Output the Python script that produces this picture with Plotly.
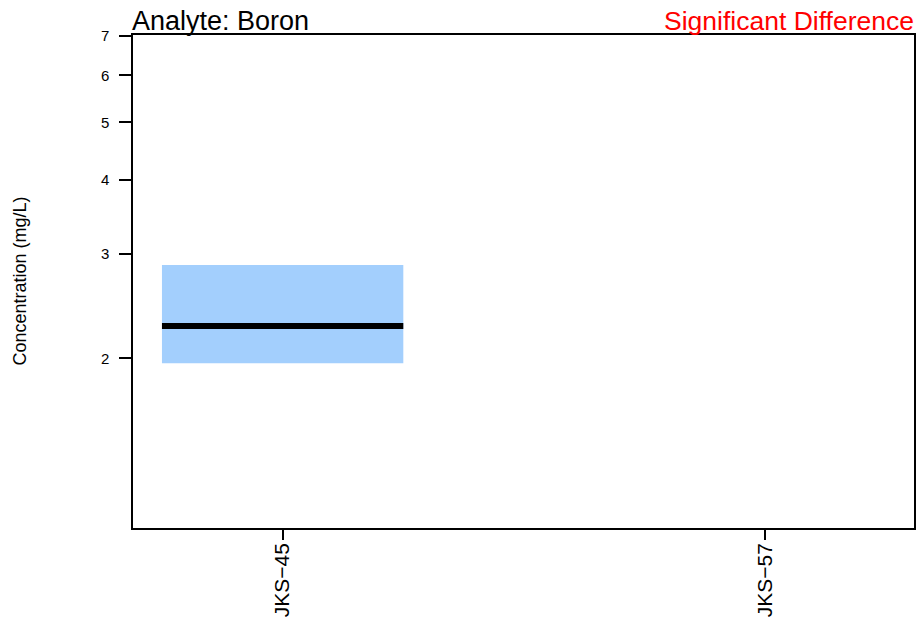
import plotly.graph_objects as go
import math

# ---- data ----
categories = ["JKS\u221245", "JKS\u221257"]
cat_pos = [1, 2]
q_low = [1.962, None]
q_med = [2.267, None]
q_high = [2.873, None]
y_ticks = [2, 3, 4, 5, 6, 7]
y_tick_labels = ["2", "3", "4", "5", "6", "7"]
box_half_width = 0.25
analyte_label = "Analyte: Boron"
status_label = "Significant Difference"

fig = go.Figure()
for x, lo, md, hi in zip(cat_pos, q_low, q_med, q_high):
    if lo is None:
        continue
    fig.add_trace(go.Scatter(
        x=[x - box_half_width, x + box_half_width, x + box_half_width, x - box_half_width, x - box_half_width],
        y=[lo, lo, hi, hi, lo],
        fill="toself", fillcolor="#A3CFFD", mode="none", showlegend=False, hoverinfo="skip"))
    fig.add_trace(go.Scatter(
        x=[x - box_half_width, x + box_half_width], y=[md, md],
        mode="lines", line=dict(color="black", width=6), showlegend=False))

font = "Liberation Sans, Arial, sans-serif"
fig.update_layout(
    width=922, height=621,
    margin=dict(l=133, r=8, t=35, b=93),
    paper_bgcolor="white", plot_bgcolor="white",
    font=dict(family=font, color="black"),
    xaxis=dict(range=[0.69, 2.308], tickvals=cat_pos, ticktext=categories, automargin=False,
               tickangle=-90, ticks="outside", ticklen=10, tickwidth=1.5, tickcolor="black",
               ticklabelstandoff=-5,
               showline=True, mirror=True, linecolor="black", linewidth=1.5,
               showgrid=False, zeroline=False, tickfont=dict(size=21, family=font)),
    yaxis=dict(type="log", range=[math.log10(1.035), 0.8463], tickvals=y_ticks, ticktext=y_tick_labels,
               automargin=False,
               ticks="outside", ticklen=12, tickwidth=1.5, tickcolor="black",
               showline=True, mirror=True, linecolor="black", linewidth=1.5,
               ticklabelstandoff=7,
               showgrid=False, zeroline=False, tickfont=dict(size=15, family=font)),
    annotations=[
        dict(text=analyte_label, xref="paper", yref="paper", x=0, y=1, xanchor="left", yanchor="bottom",
             showarrow=False, font=dict(size=27, family=font, color="black"), yshift=-3, xshift=-3),
        dict(text=status_label, xref="paper", yref="paper", x=1, y=1, xanchor="right", yanchor="bottom",
             showarrow=False, font=dict(size=26.5, family=font, color="red"), yshift=-3, xshift=2),
        dict(text="Concentration (mg/L)", xref="paper", yref="paper", x=0, y=0.5, xanchor="center",
             yanchor="middle", textangle=-90, xshift=-114, showarrow=False,
             font=dict(size=18, family=font, color="black")),
    ],
)
fig.write_html("out.html", config={"displayModeBar": False},
               post_script="document.body.style.margin='0';document.body.style.overflow='hidden';")
